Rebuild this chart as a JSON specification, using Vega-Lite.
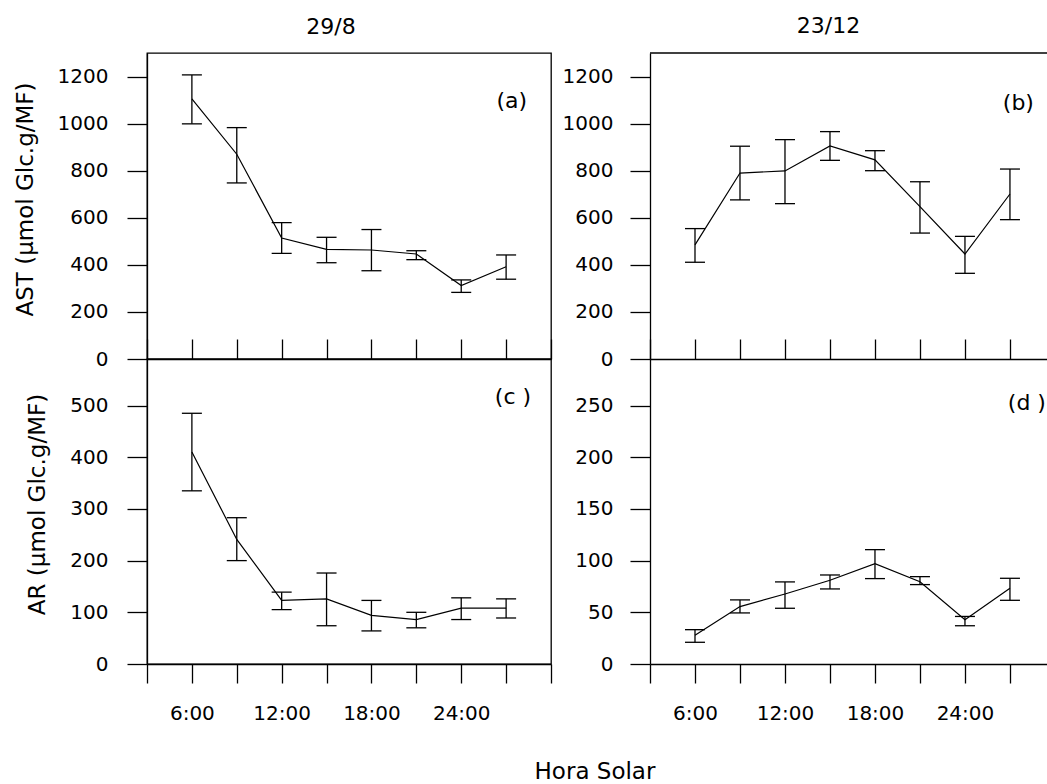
{
  "$schema": "https://vega.github.io/schema/vega-lite/v6.json",
  "padding": {"left": 13, "top": 15, "right": 0, "bottom": 0},
  "background": "white",
  "datasets": {
    "d": [
      {"panel": "a", "fecha": "29/8", "var": "AST", "hour": 6, "value": 1105, "lo": 999, "hi": 1207},
      {"panel": "a", "fecha": "29/8", "var": "AST", "hour": 9, "value": 870, "lo": 748, "hi": 983},
      {"panel": "a", "fecha": "29/8", "var": "AST", "hour": 12, "value": 514, "lo": 449, "hi": 579},
      {"panel": "a", "fecha": "29/8", "var": "AST", "hour": 15, "value": 466, "lo": 409, "hi": 517},
      {"panel": "a", "fecha": "29/8", "var": "AST", "hour": 18, "value": 463, "lo": 375, "hi": 550},
      {"panel": "a", "fecha": "29/8", "var": "AST", "hour": 21, "value": 446, "lo": 422, "hi": 460},
      {"panel": "a", "fecha": "29/8", "var": "AST", "hour": 24, "value": 312, "lo": 283, "hi": 336},
      {"panel": "a", "fecha": "29/8", "var": "AST", "hour": 27, "value": 392, "lo": 339, "hi": 442},
      {"panel": "b", "fecha": "23/12", "var": "AST", "hour": 6, "value": 485, "lo": 411, "hi": 554},
      {"panel": "b", "fecha": "23/12", "var": "AST", "hour": 9, "value": 790, "lo": 676, "hi": 904},
      {"panel": "b", "fecha": "23/12", "var": "AST", "hour": 12, "value": 799, "lo": 660, "hi": 932},
      {"panel": "b", "fecha": "23/12", "var": "AST", "hour": 15, "value": 905, "lo": 844, "hi": 966},
      {"panel": "b", "fecha": "23/12", "var": "AST", "hour": 18, "value": 846, "lo": 800, "hi": 885},
      {"panel": "b", "fecha": "23/12", "var": "AST", "hour": 21, "value": 647, "lo": 535, "hi": 753},
      {"panel": "b", "fecha": "23/12", "var": "AST", "hour": 24, "value": 446, "lo": 364, "hi": 521},
      {"panel": "b", "fecha": "23/12", "var": "AST", "hour": 27, "value": 701, "lo": 592, "hi": 807},
      {"panel": "c", "fecha": "29/8", "var": "AR", "hour": 6, "value": 410, "lo": 335, "hi": 485},
      {"panel": "c", "fecha": "29/8", "var": "AR", "hour": 9, "value": 241, "lo": 200, "hi": 283},
      {"panel": "c", "fecha": "29/8", "var": "AR", "hour": 12, "value": 123, "lo": 105, "hi": 139},
      {"panel": "c", "fecha": "29/8", "var": "AR", "hour": 15, "value": 126, "lo": 74, "hi": 176},
      {"panel": "c", "fecha": "29/8", "var": "AR", "hour": 18, "value": 94, "lo": 64, "hi": 123},
      {"panel": "c", "fecha": "29/8", "var": "AR", "hour": 21, "value": 86, "lo": 70, "hi": 100},
      {"panel": "c", "fecha": "29/8", "var": "AR", "hour": 24, "value": 108, "lo": 86, "hi": 128},
      {"panel": "c", "fecha": "29/8", "var": "AR", "hour": 27, "value": 108, "lo": 89, "hi": 126},
      {"panel": "d", "fecha": "23/12", "var": "AR", "hour": 6, "value": 27.7, "lo": 21, "hi": 33.2},
      {"panel": "d", "fecha": "23/12", "var": "AR", "hour": 9, "value": 55.5, "lo": 49.4, "hi": 62},
      {"panel": "d", "fecha": "23/12", "var": "AR", "hour": 12, "value": 67.7, "lo": 53.9, "hi": 79.4},
      {"panel": "d", "fecha": "23/12", "var": "AR", "hour": 15, "value": 81, "lo": 72.6, "hi": 86.1},
      {"panel": "d", "fecha": "23/12", "var": "AR", "hour": 18, "value": 97.1, "lo": 82.6, "hi": 110.6},
      {"panel": "d", "fecha": "23/12", "var": "AR", "hour": 21, "value": 79.5, "lo": 76.8, "hi": 84.5},
      {"panel": "d", "fecha": "23/12", "var": "AR", "hour": 24, "value": 42.9, "lo": 37, "hi": 46},
      {"panel": "d", "fecha": "23/12", "var": "AR", "hour": 27, "value": 73.2, "lo": 61.6, "hi": 82.9}
    ],
    "one": [{"k": 1}]
  },
  "title": {"text": "Hora Solar", "orient": "bottom", "anchor": "middle", "frame": "group", "fontSize": 23, "fontWeight": "normal", "font": "DejaVu Sans", "color": "black", "offset": 37, "dx": 448},
  "columns": 2,
  "spacing": {"row": 0, "column": 99},
  "bounds": "flush",
  "concat": [
    {
      "width": 404, "height": 306,
      "title": {"text": "29/8", "anchor": "middle", "frame": "group", "fontSize": 22, "fontWeight": "normal", "offset": 14, "dx": -18},
      "data": {"name": "d"},
      "transform": [{"filter": "datum.panel === 'a'"}],
      "layer": [
        {
          "mark": {"type": "line", "color": "black", "strokeWidth": 1.2},
          "encoding": {
            "x": {"field": "hour", "type": "quantitative", "scale": {"domain": [3, 30], "nice": false, "zero": false},
                  "axis": {"values": [3,6,9,12,15,18,21,24,27,30], "labels": false, "tickSize": -20, "title": null}},
            "y": {"field": "value", "type": "quantitative", "title": "AST (µmol Glc.g/MF)", "scale": {"domain": [0, 1300], "nice": false},
                  "axis": {"values": [0,200,400,600,800,1000,1200], "format": "d", "titleY": 146, "titlePadding": 20, "labelPadding": 19}}
          }
        },
        {
          "mark": {"type": "errorbar", "color": "black", "opacity": 1, "thickness": 1.3, "ticks": {"size": 20, "thickness": 1.3, "color": "black", "opacity": 1}},
          "encoding": {
            "x": {"field": "hour", "type": "quantitative"},
            "y": {"field": "lo", "type": "quantitative", "title": "AST (µmol Glc.g/MF)"},
            "y2": {"field": "hi"}
          }
        },
        {
          "data": {"name": "one"},
          "mark": {"type": "text", "text": "(a)", "align": "right", "baseline": "middle", "fontSize": 22, "fontWeight": "normal", "color": "black"},
          "encoding": {"x": {"datum": 28.4, "type": "quantitative"}, "y": {"datum": 1096, "type": "quantitative"}}
        }
      ]
    },
    {
      "width": 397, "height": 306,
      "view": {"stroke": null},
      "title": {"text": "23/12", "anchor": "middle", "frame": "group", "fontSize": 22, "fontWeight": "normal", "offset": 14, "dx": -20},
      "data": {"name": "d"},
      "transform": [{"filter": "datum.panel === 'b'"}],
      "layer": [
        {
          "mark": {"type": "line", "color": "black", "strokeWidth": 1.2},
          "encoding": {
            "x": {"field": "hour", "type": "quantitative", "scale": {"domain": [3, 29.47], "nice": false, "zero": false},
                  "axis": {"values": [3,6,9,12,15,18,21,24,27], "labels": false, "tickSize": -20, "title": null}},
            "y": {"field": "value", "type": "quantitative", "title": null, "scale": {"domain": [0, 1300], "nice": false},
                  "axis": {"values": [0,200,400,600,800,1000,1200], "format": "d", "title": null, "labelPadding": 17}}
          }
        },
        {
          "mark": {"type": "errorbar", "color": "black", "opacity": 1, "thickness": 1.3, "ticks": {"size": 20, "thickness": 1.3, "color": "black", "opacity": 1}},
          "encoding": {
            "x": {"field": "hour", "type": "quantitative"},
            "y": {"field": "lo", "type": "quantitative", "title": null},
            "y2": {"field": "hi"}
          }
        },
        {
          "data": {"name": "one"},
          "mark": {"type": "rule", "color": "black", "strokeWidth": 1.3},
          "encoding": {"y": {"datum": 1300, "type": "quantitative"}}
        },
        {
          "data": {"name": "one"},
          "mark": {"type": "text", "text": "(b)", "align": "right", "baseline": "middle", "fontSize": 22, "fontWeight": "normal", "color": "black"},
          "encoding": {"x": {"datum": 28.6, "type": "quantitative"}, "y": {"datum": 1088, "type": "quantitative"}}
        }
      ]
    },
    {
      "width": 404, "height": 305,
      "data": {"name": "d"},
      "transform": [{"filter": "datum.panel === 'c'"}],
      "layer": [
        {
          "mark": {"type": "line", "color": "black", "strokeWidth": 1.2},
          "encoding": {
            "x": {"field": "hour", "type": "quantitative", "scale": {"domain": [3, 30], "nice": false, "zero": false},
                  "axis": {"values": [3,6,9,12,15,18,21,24,27,30], "tickSize": 19, "labelPadding": 20, "labelOverlap": false, "labelFlush": false, "title": null,
                           "labelExpr": "(datum.value % 6 === 0 && datum.value >= 6 && datum.value <= 24) ? datum.value + ':00' : ''"}},
            "y": {"field": "value", "type": "quantitative", "title": "AR (µmol Glc.g/MF)", "scale": {"domain": [0, 590], "nice": false},
                  "axis": {"values": [0,100,200,300,400,500], "format": "d", "titleY": 145, "titlePadding": 20, "labelPadding": 19}}
          }
        },
        {
          "mark": {"type": "errorbar", "color": "black", "opacity": 1, "thickness": 1.3, "ticks": {"size": 20, "thickness": 1.3, "color": "black", "opacity": 1}},
          "encoding": {
            "x": {"field": "hour", "type": "quantitative"},
            "y": {"field": "lo", "type": "quantitative", "title": "AR (µmol Glc.g/MF)"},
            "y2": {"field": "hi"}
          }
        },
        {
          "data": {"name": "one"},
          "mark": {"type": "text", "text": "(c )", "align": "right", "baseline": "middle", "fontSize": 22, "fontWeight": "normal", "color": "black"},
          "encoding": {"x": {"datum": 28.67, "type": "quantitative"}, "y": {"datum": 516, "type": "quantitative"}}
        }
      ]
    },
    {
      "width": 397, "height": 305,
      "view": {"stroke": null},
      "data": {"name": "d"},
      "transform": [{"filter": "datum.panel === 'd'"}],
      "layer": [
        {
          "mark": {"type": "line", "color": "black", "strokeWidth": 1.2},
          "encoding": {
            "x": {"field": "hour", "type": "quantitative", "scale": {"domain": [3, 29.47], "nice": false, "zero": false},
                  "axis": {"values": [3,6,9,12,15,18,21,24,27], "tickSize": 19, "labelPadding": 20, "labelOverlap": false, "labelFlush": false, "title": null,
                           "labelExpr": "(datum.value % 6 === 0 && datum.value >= 6 && datum.value <= 24) ? datum.value + ':00' : ''"}},
            "y": {"field": "value", "type": "quantitative", "title": null, "scale": {"domain": [0, 295], "nice": false},
                  "axis": {"values": [0,50,100,150,200,250], "format": "d", "title": null, "labelPadding": 17}}
          }
        },
        {
          "mark": {"type": "errorbar", "color": "black", "opacity": 1, "thickness": 1.3, "ticks": {"size": 20, "thickness": 1.3, "color": "black", "opacity": 1}},
          "encoding": {
            "x": {"field": "hour", "type": "quantitative"},
            "y": {"field": "lo", "type": "quantitative", "title": null},
            "y2": {"field": "hi"}
          }
        },
        {
          "data": {"name": "one"},
          "mark": {"type": "text", "text": "(d )", "align": "right", "baseline": "middle", "fontSize": 22, "fontWeight": "normal", "color": "black"},
          "encoding": {"x": {"datum": 29.4, "type": "quantitative"}, "y": {"datum": 252, "type": "quantitative"}}
        }
      ]
    }
  ],
  "config": {
    "font": "DejaVu Sans",
    "view": {"stroke": "black", "strokeWidth": 1.3},
    "title": {"font": "DejaVu Sans", "color": "black", "fontWeight": "normal"},
    "text": {"font": "DejaVu Sans", "fontWeight": "normal"},
    "axis": {
      "grid": false,
      "domainColor": "black", "domainWidth": 1.3,
      "tickColor": "black", "tickWidth": 1.3, "tickSize": 20,
      "labelColor": "black", "labelFont": "DejaVu Sans", "labelFontSize": 20,
      "titleColor": "black", "titleFont": "DejaVu Sans", "titleFontSize": 23, "titleFontWeight": "normal"
    }
  }
}
